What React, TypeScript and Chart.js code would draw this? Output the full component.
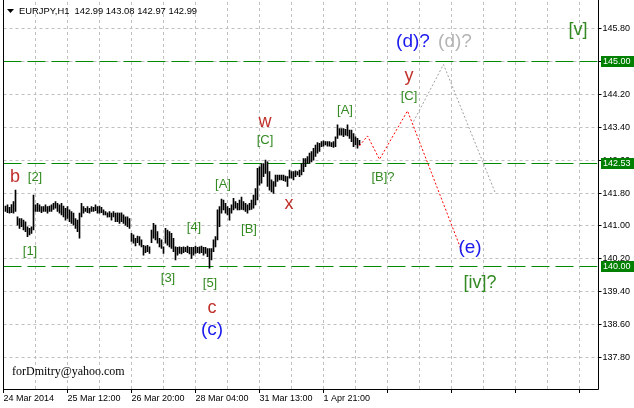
import React, { useEffect, useRef } from 'react';
import { Chart, registerables } from 'chart.js';

Chart.register(...registerables);

// ---------- data ----------
const SLOT_COUNT = 298;          // hourly slots on the x axis
const FIRST_BAR = 1;             // slot of the first bar

const barHighs = [
  141.48, 141.51, 141.45, 141.52, 141.59, 141.87, 141.22, 141.18, 141.18, 141.14,
  141.10, 140.98, 140.94, 140.98, 141.75, 141.51, 141.55, 141.51, 141.47, 141.47,
  141.51, 141.47, 141.48, 141.51, 141.55, 141.59, 141.55, 141.51, 141.55, 141.48,
  141.43, 141.47, 141.39, 141.35, 141.31, 141.18, 141.14, 141.31, 141.55, 141.47,
  141.43, 141.47, 141.43, 141.47, 141.45, 141.51, 141.47, 141.48, 141.45, 141.39,
  141.35, 141.32, 141.35, 141.31, 141.35, 141.31, 141.32, 141.31,
  141.32, 141.27, 141.22, 141.22, 141.18, 140.82, 140.78, 140.70, 140.75, 140.74,
  140.66, 140.53, 140.51, 140.53, 140.49, 140.90, 141.06, 141.02, 140.86, 140.70,
  140.66, 140.49, 140.94, 140.90, 140.86, 140.82, 140.70, 140.49, 140.48, 140.49,
  140.48, 140.49, 140.48, 140.51, 140.48, 140.48, 140.48, 140.51, 140.48, 140.49,
  140.51, 140.48, 140.48, 140.45, 140.45, 140.45, 140.66, 140.74, 141.39, 141.47,
  141.65, 141.63, 141.55, 141.47, 141.43, 141.51, 141.67, 141.59, 141.55,
  141.63, 141.70, 141.59, 141.55, 141.51, 141.55, 141.63, 141.75, 141.91, 142.40,
  142.44, 142.52, 142.52, 142.60, 142.56, 142.32, 142.12, 142.08, 142.24, 142.24,
  142.24, 142.24, 142.24, 142.21, 142.20, 142.36, 142.32, 142.32, 142.34, 142.32,
  142.36, 142.52, 142.64, 142.64, 142.69, 142.77, 142.81, 142.89, 142.97, 143.03,
  143.01, 143.05, 143.07, 143.05, 143.05, 143.05, 143.03, 143.05, 143.17, 143.46,
  143.37, 143.37, 143.37, 143.35, 143.46, 143.33, 143.33, 143.25, 143.17, 143.13,
  143.08,
];

const barLows = [
  141.35, 141.32, 141.31, 141.32, 141.31, 141.35, 141.02, 140.94, 140.98, 140.90,
  140.86, 140.74, 140.78, 140.82, 140.90, 141.35, 141.35, 141.35, 141.32, 141.35,
  141.35, 141.31, 141.35, 141.35, 141.40, 141.43, 141.35, 141.31, 141.27, 141.22,
  141.14, 141.18, 141.10, 141.06, 141.02, 140.94, 140.86, 140.70, 141.22, 141.31,
  141.35, 141.32, 141.31, 141.35, 141.35, 141.37, 141.31, 141.31, 141.32, 141.27,
  141.27, 141.21, 141.22, 141.14, 141.22, 141.10, 141.10, 141.06,
  141.10, 141.06, 141.02, 140.98, 140.94, 140.62, 140.58, 140.51, 140.59, 140.53,
  140.49, 140.29, 140.35, 140.37, 140.33, 140.59, 140.70, 140.66, 140.58, 140.49,
  140.45, 140.33, 140.58, 140.53, 140.49, 140.45, 140.37, 140.17, 140.29, 140.33,
  140.32, 140.35, 140.37, 140.35, 140.32, 140.21, 140.29, 140.33, 140.35, 140.33,
  140.35, 140.29, 140.33, 140.25, 139.97, 140.17, 140.37, 140.49, 140.66, 140.98,
  141.31, 141.39, 141.31, 141.27, 141.14, 141.31, 141.39, 141.43, 141.39,
  141.39, 141.40, 141.39, 141.35, 141.31, 141.39, 141.40, 141.43, 141.51, 141.63,
  141.99, 142.04, 142.20, 142.28, 141.96, 141.87, 141.83, 141.79, 141.96, 142.08,
  142.12, 142.12, 142.10, 142.08, 141.96, 142.16, 142.16, 142.12, 142.20, 142.24,
  142.20, 142.24, 142.32, 142.44, 142.52, 142.52, 142.56, 142.60, 142.69, 142.77,
  142.81, 142.93, 142.94, 142.97, 142.94, 142.94, 142.93, 142.91, 142.93, 143.13,
  143.21, 143.21, 143.17, 143.21, 143.19, 143.13, 143.05, 142.93, 142.97, 142.89,
  142.97,
];

const xTickSlots = [0, 32, 64, 96, 128, 160];
const xTickTexts = ['24 Mar 2014', '25 Mar 12:00', '26 Mar 20:00', '28 Mar 04:00', '31 Mar 13:00', '1 Apr 21:00'];

const yTickValues = [137.8, 138.6, 139.4, 140.2, 141.0, 141.8, 142.6, 143.4, 144.2, 145.0, 145.8];
const Y_MIN = 137.03;
const Y_MAX = 146.45;

const levelPrices = [145.0, 142.53, 140.0];

const redPathSlots = [178, 182, 188, 202, 229];
const redPathPrices = [142.95, 143.19, 142.62, 143.80, 140.40];

const grayPathSlots = [205, 220, 246];
const grayPathPrices = [143.54, 144.93, 141.79];

const waveTexts = ['b', '[2]', '[1]', '[3]', '[4]', '[5]', 'c', '(c)', '[A]', '[B]', '[C]', 'w', 'x', '[A]', '[B]?', 'y', '[C]', '(d)?', '(d)?', '[v]', '(e)', '[iv]?'];
const waveSlots = [5.75, 15.75, 13.25, 82.25, 95.25, 103.25, 104.25, 104.25, 109.75, 122.75, 130.75, 130.75, 142.75, 170.75, 189.75, 202.75, 202.75, 204.75, 225.75, 287.25, 233.25, 238.25];
const wavePrices = [142.19, 142.19, 140.39, 139.73, 140.96, 139.59, 139.00, 138.47, 142.02, 140.92, 143.07, 143.53, 141.54, 143.80, 142.19, 144.65, 144.16, 145.48, 145.48, 145.77, 140.46, 139.61];
const waveKinds = ['r', 'g', 'g', 'g', 'g', 'g', 'r', 'b', 'g', 'g', 'g', 'r', 'r', 'g', 'g', 'r', 'g', 'b', 'k', 'G', 'b', 'G'];

const titleText = 'EURJPY,H1  142.99 143.08 142.97 142.99';
const signatureText = 'forDmitry@yahoo.com';

// ---------- styles ----------
const FONT = "'Liberation Sans', Arial, sans-serif";
const KIND_STYLE: Record<string, { color: string; size: number }> = {
  r: { color: '#c0302a', size: 18 },
  g: { color: '#338a22', size: 13 },
  G: { color: '#338a22', size: 18 },
  b: { color: '#1a1aee', size: 19 },
  k: { color: '#b4b4b4', size: 19 },
};

function App() {
  const canvasRef = useRef<HTMLCanvasElement | null>(null);

  useEffect(() => {
    const canvas = canvasRef.current;
    if (!canvas) return;

    const labels = Array.from({ length: SLOT_COUNT }, (_, i) => {
      const k = xTickSlots.indexOf(i);
      return k >= 0 ? xTickTexts[k] : '';
    });

    const barData: ([number, number] | null)[] = Array(SLOT_COUNT).fill(null);
    barHighs.forEach((h, i) => {
      barData[FIRST_BAR + i] = [barLows[i], h];
    });

    const pathData = (slots: number[], prices: number[]) => {
      const arr: (number | null)[] = Array(SLOT_COUNT).fill(null);
      slots.forEach((s, i) => (arr[s] = prices[i]));
      return arr;
    };

    const overlay = {
      id: 'overlay',
      beforeDatasetsDraw(chart: any) {
        const { ctx, chartArea: ca, scales } = chart;
        const y = scales.y;
        ctx.save();
        ctx.beginPath();
        ctx.rect(ca.left, ca.top, ca.right - ca.left, ca.bottom - ca.top);
        ctx.clip();
        levelPrices.forEach((p) => {
          const py = Math.floor(y.getPixelForValue(p)) + 0.5;
          ctx.strokeStyle = '#008a00';
          ctx.lineWidth = 1;
          ctx.setLineDash([18, 6]);
          ctx.lineDashOffset = 0;
          ctx.beginPath();
          ctx.moveTo(ca.left, py);
          ctx.lineTo(ca.right, py);
          ctx.stroke();
        });
        ctx.restore();
      },
      afterDraw(chart: any) {
        const { ctx, chartArea: ca, scales } = chart;
        const x = scales.x;
        const y = scales.y;
        ctx.save();
        // frame
        ctx.strokeStyle = '#000';
        ctx.lineWidth = 1;
        ctx.setLineDash([]);
        ctx.beginPath();
        ctx.moveTo(ca.left, 0);
        ctx.lineTo(ca.left, ca.bottom + 0.5);
        ctx.lineTo(ca.right + 1, ca.bottom + 0.5);
        ctx.lineTo(ca.right + 1, 0);
        ctx.stroke();

        // price badges
        ctx.font = `9px ${FONT}`;
        ctx.textBaseline = 'middle';
        ctx.textAlign = 'left';
        levelPrices.forEach((p) => {
          const py = Math.floor(y.getPixelForValue(p)) + 0.5;
          ctx.fillStyle = '#008000';
          ctx.fillRect(ca.right + 3.5, py - 5.5, 40, 11);
          ctx.fillStyle = '#fff';
          ctx.fillText(p.toFixed(2), ca.right + 5.5, py);
        });

        // wave labels
        ctx.textAlign = 'center';
        ctx.textBaseline = 'middle';
        waveTexts.forEach((t, i) => {
          const st = KIND_STYLE[waveKinds[i]];
          ctx.font = `${st.size}px ${FONT}`;
          ctx.fillStyle = st.color;
          ctx.fillText(t, x.getPixelForValue(waveSlots[i]), y.getPixelForValue(wavePrices[i]));
        });

        // title
        ctx.fillStyle = '#000';
        ctx.beginPath();
        ctx.moveTo(7, 9);
        ctx.lineTo(14, 9);
        ctx.lineTo(10.5, 13);
        ctx.closePath();
        ctx.fill();
        ctx.font = `9.4px ${FONT}`;
        ctx.textAlign = 'left';
        ctx.textBaseline = 'middle';
        ctx.fillText(titleText, 19, 11);

        // signature
        ctx.font = `12px 'Liberation Serif', 'Times New Roman', serif`;
        ctx.textBaseline = 'alphabetic';
        ctx.fillText(signatureText, 12, 375);
        ctx.restore();
      },
    };

    const chart = new Chart(canvas, {
      type: 'bar',
      data: {
        labels,
        datasets: [
          {
            type: 'line',
            data: pathData(redPathSlots, redPathPrices),
            borderColor: '#ff0000',
            borderWidth: 1,
            borderDash: [2, 2],
            pointRadius: 0,
            spanGaps: true,
            fill: false,
            tension: 0,
          } as any,
          {
            type: 'line',
            data: pathData(grayPathSlots, grayPathPrices),
            borderColor: '#a0a0a0',
            borderWidth: 1,
            borderDash: [2, 2],
            pointRadius: 0,
            spanGaps: true,
            fill: false,
            tension: 0,
          } as any,
          {
            type: 'bar',
            data: barData as any,
            backgroundColor: '#000',
            borderWidth: 0,
            barThickness: 1,
          },
        ],
      },
      options: {
        animation: false,
        responsive: true,
        maintainAspectRatio: false,
        events: [],
        layout: { padding: { left: 3.5, top: 2, right: 0, bottom: 0 } },
        plugins: { legend: { display: false }, tooltip: { enabled: false }, title: { display: false } },
        scales: {
          x: {
            type: 'category',
            offset: false,
            grid: {
              offset: false,
              color: (c: any) => (c.index % 16 === 0 ? '#c0c0c0' : 'rgba(0,0,0,0)'),
              tickColor: (c: any) => (c.index % 32 === 0 ? '#000' : 'rgba(0,0,0,0)'),
              tickLength: 4,
              lineWidth: 1,
            },
            border: { display: false, dash: [3, 3] },
            ticks: {
              autoSkip: false,
              maxRotation: 0,
              minRotation: 0,
              align: 'start',
              padding: 0,
              color: '#000',
              font: { family: FONT, size: 9 },
            },
            afterFit: (s: any) => {
              s.height = 19;
              s.paddingLeft = 0;
              s.paddingRight = 0;
            },
          },
          y: {
            type: 'linear',
            position: 'right',
            min: Y_MIN,
            max: Y_MAX,
            afterBuildTicks: (s: any) => {
              s.ticks = yTickValues.map((v) => ({ value: v }));
            },
            grid: {
              color: '#c0c0c0',
              tickColor: '#000',
              tickLength: 4,
              lineWidth: 1,
            },
            border: { display: false, dash: [3, 3] },
            ticks: {
              padding: 1,
              color: '#000',
              font: { family: FONT, size: 9 },
              callback: (v: any) => Number(v).toFixed(2),
            },
            afterFit: (s: any) => {
              s.width = 36.5;
              s.paddingTop = 0;
              s.paddingBottom = 0;
            },
          },
        },
      } as any,
      plugins: [overlay],
    });

    return () => chart.destroy();
  }, []);

  return (
    <div style={{ position: 'absolute', left: 0, top: 0, width: 634, height: 408, background: '#fff' }}>
      <canvas ref={canvasRef} style={{ display: 'block' }} />
    </div>
  );
}

export default App;
